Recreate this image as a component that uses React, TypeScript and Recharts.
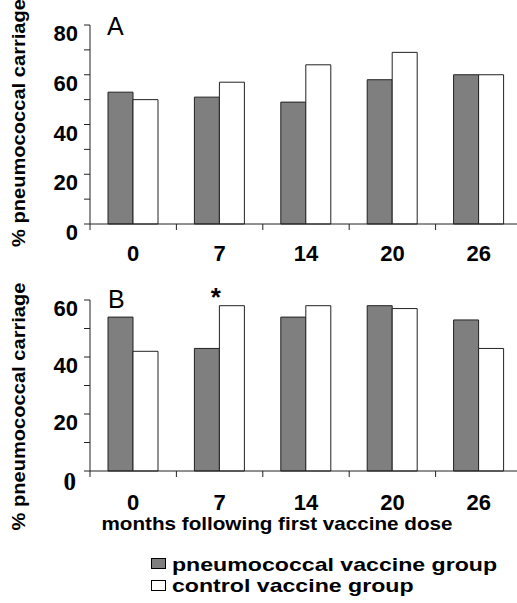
import React from "react";
import { BarChart, Bar, XAxis, YAxis, Legend, Label, LabelList } from "recharts";

const FONT = "'Liberation Sans', Arial, Helvetica, sans-serif";
const SERIF = "'Liberation Serif', 'Times New Roman', serif";

// months after the first dose
const months = ["0", "7", "14", "20", "26"];

// panel A
const pneumoA = [53, 51, 49, 58, 60];
const controlA = [50, 57, 64, 69, 60];
const yTicksA = [0, 10, 20, 30, 40, 50, 60, 70, 80];

// panel B
const pneumoB = [54, 43, 54, 58, 53];
const controlB = [42, 58, 58, 57, 43];
const sigB = ["", "*", "", "", ""];
const yTicksB = [0, 10, 20, 30, 40, 50, 60];

const SERIES = [
  { key: "pneumo", name: "pneumococcal vaccine group", fill: "#7f7f7f" },
  { key: "control", name: "control vaccine group", fill: "#ffffff" },
];

const rowsA = months.map((m, i) => ({ month: m, pneumo: pneumoA[i], control: controlA[i] }));
const rowsB = months.map((m, i) => ({
  month: m,
  pneumo: pneumoB[i],
  control: controlB[i],
  sig: sigB[i],
}));

// month label at the band centre, tick marks on the band edges
const XTick = (props: any) => {
  const { x, y, payload, labelGap, width, visibleTicksCount } = props;
  const half = payload.offset || width / (2 * visibleTicksCount);
  const last = payload.index === months.length - 1;
  return (
    <g>
      <line x1={x - half} y1={y} x2={x - half} y2={y + 6} stroke="#222" strokeWidth={1} />
      {last && <line x1={x + half} y1={y} x2={x + half} y2={y + 6} stroke="#222" strokeWidth={1} />}
      <text
        x={x}
        y={y + labelGap}
        textAnchor="middle"
        style={{ fontFamily: FONT, fontWeight: "bold", fontSize: 22 }}
        fill="#000"
      >
        {payload.value}
      </text>
    </g>
  );
};

const YTick = (props: any) => {
  const { x, y, payload, serifZero } = props;
  const v = payload.value;
  if (v % 20 !== 0) return <g />;
  if (serifZero && v === 0) {
    return (
      <text x={x - 2} y={y + 19} textAnchor="end" style={{ fontFamily: SERIF, fontWeight: "bold", fontSize: 25 }} fill="#000">
        {v}
      </text>
    );
  }
  return (
    <text x={x} y={y + 16} textAnchor="end" style={{ fontFamily: FONT, fontWeight: "bold", fontSize: 22 }} fill="#000">
      {v}
    </text>
  );
};

const yTitle = (cy: number) => () =>
  (
    <text
      x={25}
      y={cy}
      transform={`rotate(-90 25 ${cy})`}
      textAnchor="middle"
      fontFamily={FONT}
      fontWeight="bold"
      fontSize={18}
      textLength={248}
      lengthAdjust="spacingAndGlyphs"
      fill="#000"
    >
      % pneumococcal carriage
    </text>
  );

const xTitle = ({ viewBox }: any) => (
  <text
    x={viewBox.x + 187}
    y={viewBox.y + 59}
    textAnchor="middle"
    fontFamily={FONT}
    fontWeight="bold"
    fontSize={19}
    textLength={351}
    lengthAdjust="spacingAndGlyphs"
    fill="#000"
  >
    months following first vaccine dose
  </text>
);

const Star = (props: any) => {
  const { x, y, value } = props;
  if (!value) return <g />;
  return (
    <text x={x - 3.5} y={y} textAnchor="middle" fontFamily={FONT} fontWeight="bold" fontSize={26} fill="#000">
      {value}
    </text>
  );
};

const LegendBox = ({ payload }: any) => {
  const items = SERIES.map((s) => ({ s, p: (payload || []).find((p: any) => p.dataKey === s.key) }));
  return (
    <svg width={370} height={48} style={{ display: "block" }}>
      {items.map(({ s, p }, i) => (
        <g key={s.key}>
          <rect x={6.5} y={6.5 + i * 22} width={14} height={10} fill={s.fill} stroke="#000" strokeWidth={1} />
          <text
            transform={`translate(27 ${18.5 + i * 21.5}) scale(1.285 1)`}
            fontFamily={FONT}
            fontWeight="bold"
            fontSize={18}
            fill="#000"
          >
            {p?.value ?? s.name}
          </text>
        </g>
      ))}
    </svg>
  );
};

const axisStroke = { stroke: "#222", strokeWidth: 1 };

export default function App() {
  return (
    <div
      style={{
        position: "absolute",
        left: 0,
        top: 0,
        width: 517,
        height: 603,
        overflow: "hidden",
        background: "#fff",
        fontFamily: FONT,
      }}
    >
      <div style={{ position: "absolute", left: 0, top: 0 }}>
        <BarChart width={522} height={270} data={rowsA} margin={{ top: 25, right: 0, bottom: 0, left: 0 }} barGap={0}>
          <XAxis
            dataKey="month"
            height={46}
            interval={0}
            tickSize={0}
            tickMargin={0}
            tickLine={false}
            axisLine={axisStroke}
            tick={<XTick labelGap={37} />}
          />
          <YAxis
            domain={[0, 80]}
            ticks={yTicksA}
            interval={0}
            width={90}
            tickSize={6}
            tickMargin={6}
            axisLine={axisStroke}
            tickLine={axisStroke}
            tick={<YTick />}
          >
            <Label content={yTitle(123)} />
          </YAxis>
          {SERIES.map((s) => (
            <Bar
              key={s.key}
              dataKey={s.key}
              name={s.name}
              fill={s.fill}
              stroke="#222"
              strokeWidth={1}
              barSize={25}
              isAnimationActive={false}
            />
          ))}
          <text x={107} y={35} fontFamily={FONT} fontSize={25} fill="#000">
            A
          </text>
        </BarChart>
      </div>

      <div style={{ position: "absolute", left: 0, top: 270 }}>
        <BarChart width={522} height={333} data={rowsB} margin={{ top: 30, right: 0, bottom: 0, left: 0 }} barGap={0}>
          <XAxis
            dataKey="month"
            height={132}
            interval={0}
            tickSize={0}
            tickMargin={0}
            tickLine={false}
            axisLine={axisStroke}
            tick={<XTick labelGap={39} />}
          >
            <Label content={xTitle} />
          </XAxis>
          <YAxis
            domain={[0, 60]}
            ticks={yTicksB}
            interval={0}
            width={90}
            tickSize={6}
            tickMargin={6}
            axisLine={axisStroke}
            tickLine={axisStroke}
            tick={<YTick serifZero />}
          >
            <Label content={yTitle(136.5)} />
          </YAxis>
          <Bar
            dataKey="pneumo"
            name={SERIES[0].name}
            fill={SERIES[0].fill}
            stroke="#222"
            strokeWidth={1}
            barSize={25}
            isAnimationActive={false}
          />
          <Bar
            dataKey="control"
            name={SERIES[1].name}
            fill={SERIES[1].fill}
            stroke="#222"
            strokeWidth={1}
            barSize={25}
            isAnimationActive={false}
          >
            <LabelList dataKey="sig" content={<Star />} />
          </Bar>
          <Legend
            layout="vertical"
            align="center"
            verticalAlign="middle"
            content={<LegendBox />}
            wrapperStyle={{ left: 145, top: 282, width: 370, height: 48 }}
          />
          <text x={108} y={38} fontFamily={FONT} fontSize={25} fill="#000">
            B
          </text>
        </BarChart>
      </div>
    </div>
  );
}
